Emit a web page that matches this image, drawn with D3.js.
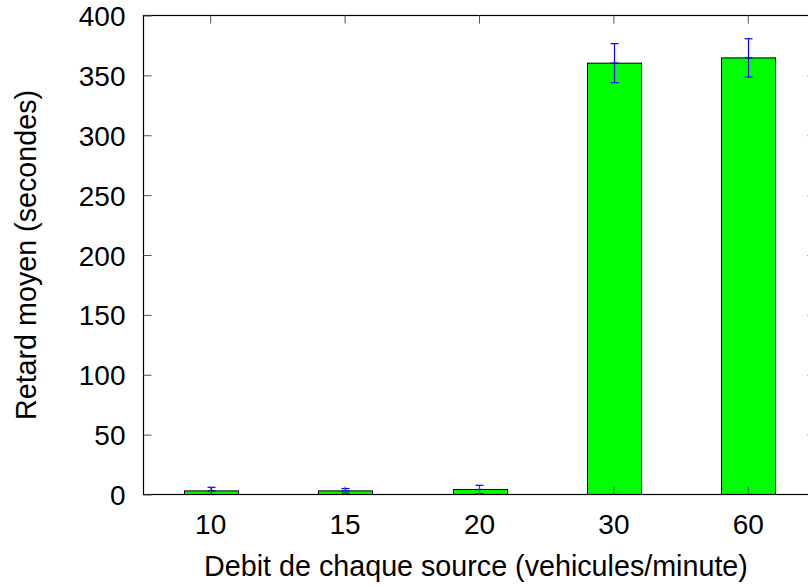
<!DOCTYPE html>
<html><head><meta charset="utf-8">
<script src="https://cdn.jsdelivr.net/npm/d3@7"></script>
<style>body{margin:0;background:#fff;}svg{display:block;}text{font-family:"Liberation Sans",Arial,sans-serif;fill:#000;}</style>
</head><body><svg id="c" width="808" height="587"></svg>
<script>
const categories = ["10","15","20","30","60"];
const meanDelay = [3.0, 3.0, 4.2, 360.2, 364.6];
const delayError = [3.0, 2.0, 3.5, 16.3, 16.0];
const yTicks = [0,50,100,150,200,250,300,350,400];
const xTitle = "Debit de chaque source (vehicules/minute)";
const yTitle = "Retard moyen (secondes)";

const svg = d3.select("#c");
const L = 143.5, R = 815.5, T = 15.5, B = 494.5;
const x = d3.scaleBand().domain(categories).range([L, R]).paddingInner(0.6).paddingOuter(0.3);
const y = d3.scaleLinear().domain([0, 400]).range([B, T]);
const fs = 28;
const fsT = 28.7;

// bars
const data = categories.map((c,i)=>({c, v:meanDelay[i], e:delayError[i]}));
svg.append("g").selectAll("rect").data(data).join("rect")
  .attr("x", d=>Math.round(x(d.c))+0.5).attr("width", Math.round(x.bandwidth()))
  .attr("y", d=>y(d.v)).attr("height", d=>B - y(d.v))
  .attr("fill", "#00ff00").attr("stroke", "#000").attr("stroke-width", 1);

// error bars
const eb = svg.append("g").attr("stroke", "#0000ff").attr("stroke-width", 1.2);
data.forEach(d=>{
  const cx = Math.round(x(d.c) + x.bandwidth()/2) + 0.5;
  eb.append("line").attr("x1", cx).attr("x2", cx).attr("y1", y(d.v + d.e)).attr("y2", y(d.v - d.e));
  [d.v + d.e, d.v - d.e, d.v].forEach(v=>{
    eb.append("line").attr("x1", cx-4).attr("x2", cx+4).attr("y1", y(v)).attr("y2", y(v));
  });
});

// frame
svg.append("rect").attr("x", L).attr("y", T).attr("width", R-L).attr("height", B-T)
  .attr("fill", "none").attr("stroke", "#000").attr("stroke-width", 1.2);

// y axis left (ticks inward)
const yAxisL = d3.axisLeft(y).tickValues(yTicks).tickSize(-8).tickPadding(18);
const gL = svg.append("g").attr("transform", `translate(${L},0)`).call(yAxisL);
gL.select(".domain").remove();
gL.selectAll("text").style("font-size", fs+"px").attr("dy", "0.36em");
gL.selectAll("line").attr("stroke", "#555");

const yAxisR = d3.axisRight(y).tickValues(yTicks.slice(1,-1)).tickSize(-8).tickFormat("");
const gR = svg.append("g").attr("transform", `translate(${R},0)`).call(yAxisR);
gR.select(".domain").remove();
gR.selectAll("line").attr("stroke", "#555");

// x axis
const xAxisB = d3.axisBottom(x).tickSize(-8).tickPadding(20);
const gB = svg.append("g").attr("transform", `translate(0,${B})`).call(xAxisB);
gB.select(".domain").remove();
gB.selectAll("line").attr("stroke", "#555");
gB.selectAll("text").style("font-size", fs+"px");

const xAxisT = d3.axisTop(x).tickSize(-8).tickFormat("");
const gT = svg.append("g").attr("transform", `translate(0,${T})`).call(xAxisT);
gT.select(".domain").remove();
gT.selectAll("line").attr("stroke", "#555");

// titles
svg.append("text").attr("x", 476).attr("y", 576).attr("text-anchor", "middle")
  .style("font-size", fsT+"px").text(xTitle);
svg.append("text").attr("transform", "translate(36,255) rotate(-90)").attr("text-anchor", "middle")
  .style("font-size", fsT+"px").text(yTitle);
</script></body></html>
